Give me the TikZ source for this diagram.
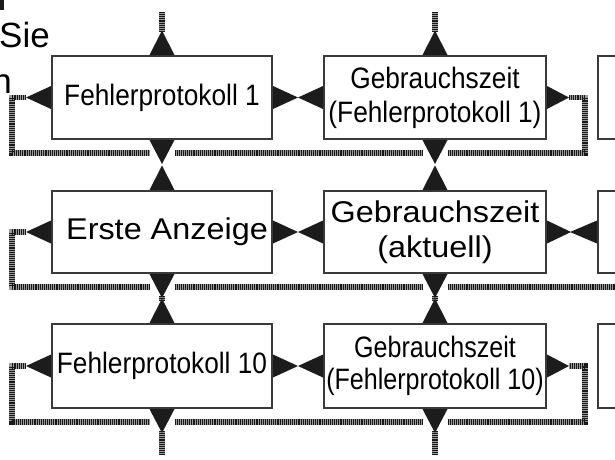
\documentclass[tikz,border=0pt]{standalone}
\usepackage{fontspec}
\usetikzlibrary{calc}
\setmainfont{Liberation Sans}
\newfontfamily\fcond[FakeStretch=0.89]{Liberation Sans}
\newfontfamily\fcondb[FakeStretch=0.85]{Liberation Sans}
\newfontfamily\fwide[FakeStretch=1.08]{Liberation Sans}
\definecolor{boxgray}{HTML}{3A3A3A}
\definecolor{trig}{HTML}{1C1C1C}
\definecolor{hatchbase}{HTML}{9A9A9A}
\newcommand\TriUp[1]{\fill[tri] #1 ++(-12.5,0) -- ++(25,0) -- ++(-12.5,-24.5) -- cycle;}
\newcommand\TriDn[1]{\fill[tri] #1 ++(-12.5,0) -- ++(25,0) -- ++(-12.5,24) -- cycle;}
\newcommand\TriLt[2]{\fill[tri] #1 ++(0,-11.5) -- ++(0,23) -- ++(-#2,-11.5) -- cycle;}
\newcommand\TriRt[2]{\fill[tri] #1 ++(0,-11.5) -- ++(0,23) -- ++(#2,-11.5) -- cycle;}
\tikzset{
  box/.style={draw=boxgray, line width=2pt, fill=white, inner sep=0pt, align=center, text=black},
  cond/.style={font=\fcond\fontsize{29.5}{34}\selectfont},
  condb/.style={font=\fcondb\fontsize{29.5}{32}\selectfont},
  wide/.style={font=\fwide\fontsize{30}{35}\selectfont},
  side/.style={font=\fontsize{35}{46}\selectfont, inner sep=0pt},
  tri/.style={fill=trig},
  hatch/.style={preaction={draw=hatchbase, line width=5.5pt},
                draw=black!90, line width=5.5pt, dash pattern=on 1.1pt off 1pt}
}
\begin{document}
\begin{tikzpicture}[x=1pt, y=-1pt]
\useasboundingbox (0,0) rectangle (615,459);
\clip (0,0) rectangle (615,459);

% cut-off text at the left
\node[side, anchor=base west] (sie) at (-1,47) {Sie};
\node[side, anchor=base east] (nn) at (12,93) {n};
\fill[trig] (0,0) rectangle (4,9.5);

% boxes
\node[box, cond, minimum width=220pt, minimum height=83pt] (A1) at (162,97.5) {Fehlerprotokoll 1};
\node[box, cond, minimum width=222pt, minimum height=83pt] (B1) at (435,97.5) {Gebrauchszeit\\(Fehlerprotokoll 1)};
\node[box, minimum width=100pt, minimum height=83pt] (C1) at (648,97.5) {};

\node[box, wide, minimum width=220pt, minimum height=82pt] (A2) at (162,232) {\hspace*{10pt}Erste Anzeige};
\node[box, wide, minimum width=222pt, minimum height=82pt] (B2) at (435,232) {Gebrauchszeit\\(aktuell)};
\node[box, minimum width=100pt, minimum height=82pt] (C2) at (648,232) {};

\node[box, cond, minimum width=220pt, minimum height=84pt] (A3) at (162,366) {Fehlerprotokoll 10};
\node[box, condb, minimum width=222pt, minimum height=84pt] (B3) at (435,366) {Gebrauchszeit\\(Fehlerprotokoll 10)};
\node[box, minimum width=100pt, minimum height=84pt] (C3) at (648,366) {};

% hatched connectors
\coordinate (tA1) at ([xshift=-25pt]A1.west);
\coordinate (tB1) at ([xshift=22pt]B1.east);
\coordinate (tA2) at ([xshift=-25pt]A2.west);
\coordinate (tA3) at ([xshift=-25pt]A3.west);
\coordinate (tB3) at ([xshift=22pt]B3.east);
\coordinate (topA) at (162,12);
\coordinate (topB) at (435,12);
\coordinate (botA) at (162,455);
\coordinate (botB) at (435,455);
\coordinate (edge2) at (620,287);

\draw[hatch] (topA) -- ($(A1.north)+(0,-23)$);
\draw[hatch] (topB) -- ($(B1.north)+(0,-23)$);

\draw[hatch] (tA1) -- (12,97.5) -- (12,153) -- (149.5,153);
\draw[hatch] (174.5,153) -- (422.5,153);
\draw[hatch] (447.5,153) -- (585,153) -- (585,97.5) -- (tB1);

\draw[hatch] (tA2) -- (12,232) -- (12,287) -- (149.5,287);
\draw[hatch] (174.5,287) -- (422.5,287);
\draw[hatch] (447.5,287) -- (edge2);

\draw[hatch] (tA3) -- (12,366) -- (12,422) -- (149.5,422);
\draw[hatch] (174.5,422) -- (422.5,422);
\draw[hatch] (447.5,422) -- (585,422) -- (585,366) -- (tB3);

\draw[hatch] ($(A2.south)+(0,22)$) -- ($(A3.north)+(0,-22)$);
\draw[hatch] ($(B2.south)+(0,22)$) -- ($(B3.north)+(0,-22)$);
\draw[hatch] ($(A3.south)+(0,22)$) -- (botA);
\draw[hatch] ($(B3.south)+(0,22)$) -- (botB);

% triangles row 1
\TriUp{(A1.north)} \TriUp{(B1.north)}
\TriLt{(A1.west)}{25} \TriRt{(A1.east)}{25}
\TriLt{(B1.west)}{25} \TriRt{(B1.east)}{22}
\TriDn{(A1.south)} \TriDn{(B1.south)}
% row 2
\TriUp{(A2.north)} \TriUp{(B2.north)}
\TriLt{(A2.west)}{25} \TriRt{(A2.east)}{25}
\TriLt{(B2.west)}{25} \TriRt{(B2.east)}{24}
\TriLt{(C2.west)}{27}
\TriDn{(A2.south)} \TriDn{(B2.south)}
% row 3
\TriUp{(A3.north)} \TriUp{(B3.north)}
\TriLt{(A3.west)}{25} \TriRt{(A3.east)}{25}
\TriLt{(B3.west)}{25} \TriRt{(B3.east)}{22}
\TriDn{(A3.south)} \TriDn{(B3.south)}
\end{tikzpicture}
\end{document}
